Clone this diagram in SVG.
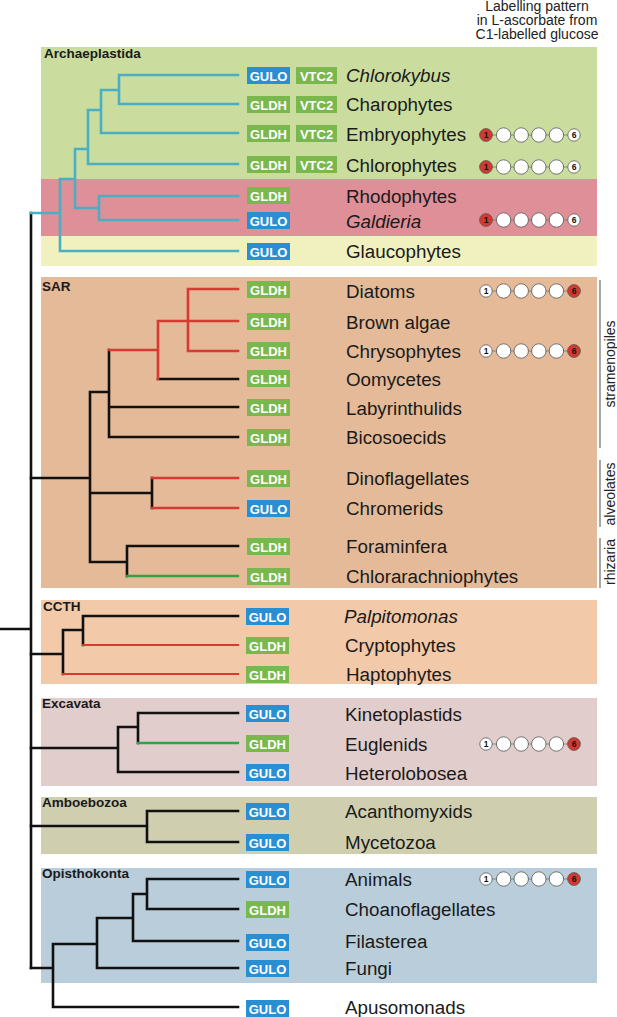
<svg xmlns="http://www.w3.org/2000/svg" width="617" height="1017" viewBox="0 0 617 1017">
<style>
.tx{font-family:"Liberation Sans",Arial,sans-serif;font-size:18.8px;fill:#1a1a1a}
.it{font-style:italic}
.grp{font-family:"Liberation Sans",Arial,sans-serif;font-size:13.5px;font-weight:bold;fill:#1a1a1a}
.hd{font-family:"Liberation Sans",Arial,sans-serif;font-size:14px;fill:#222;text-anchor:middle}
.side{font-family:"Liberation Sans",Arial,sans-serif;font-size:14px;fill:#222;text-anchor:middle}
.bl{fill:#2a8fd2}
.gr{fill:#7ab84e}
.bt{font-family:"Liberation Sans",Arial,sans-serif;font-size:13px;font-weight:bold;fill:#fff;text-anchor:middle}
.k{stroke:#111;stroke-width:2.6;fill:none;stroke-linecap:square}
.t{stroke:#4aafc2;stroke-width:2.6;fill:none;stroke-linecap:square}
.r{stroke:#d63a32;stroke-width:2.6;fill:none;stroke-linecap:square}
.g{stroke:#35a046;stroke-width:2.3;fill:none;stroke-linecap:square}
.sl{stroke:#8a8a8a;stroke-width:1.5}
.cl{stroke:#777;stroke-width:0.8}
.cw{fill:#fff;stroke:#555;stroke-width:0.8}
.cr{fill:#d23a30;stroke:#555;stroke-width:0.8}
.cn{font-family:"Liberation Sans",Arial,sans-serif;font-size:8.5px;font-weight:bold;fill:#111;text-anchor:middle}
</style>
<defs>
<g id="patA">
<line class="cl" x1="486" y1="0" x2="574" y2="0"/>
<circle class="cr" cx="486" cy="0" r="6.4"/>
<circle class="cw" cx="503.6" cy="0" r="7.2"/>
<circle class="cw" cx="521.2" cy="0" r="7.2"/>
<circle class="cw" cx="538.8" cy="0" r="7.2"/>
<circle class="cw" cx="556.4" cy="0" r="7.2"/>
<circle class="cw" cx="574" cy="0" r="6.2"/>
<text class="cn" x="486" y="3">1</text>
<text class="cn" x="574" y="3">6</text>
</g>
<g id="patB">
<line class="cl" x1="486" y1="0" x2="574" y2="0"/>
<circle class="cw" cx="486" cy="0" r="6.2"/>
<circle class="cw" cx="503.6" cy="0" r="7.2"/>
<circle class="cw" cx="521.2" cy="0" r="7.2"/>
<circle class="cw" cx="538.8" cy="0" r="7.2"/>
<circle class="cw" cx="556.4" cy="0" r="7.2"/>
<circle class="cr" cx="574" cy="0" r="6.4"/>
<text class="cn" x="486" y="3">1</text>
<text class="cn" x="574" y="3">6</text>
</g>
</defs>

<g id="panels">
<rect x="41" y="47" width="556" height="132" fill="#cadd9f"/>
<rect x="41" y="179" width="556" height="57" fill="#df8f98"/>
<rect x="41" y="236" width="556" height="30" fill="#f1f1c0"/>
<rect x="41" y="277" width="556" height="311" fill="#e5ba98"/>
<rect x="41" y="600" width="556" height="84" fill="#f2c9a9"/>
<rect x="41" y="698" width="556" height="88" fill="#e1cdcc"/>
<rect x="41" y="797" width="556" height="57" fill="#cfcfb0"/>
<rect x="41" y="868" width="556" height="115" fill="#b9cdda"/>
<text class="grp" x="44" y="58">Archaeplastida</text>
<text class="grp" x="42" y="291">SAR</text>
<text class="grp" x="43" y="611">CCTH</text>
<text class="grp" x="42" y="708">Excavata</text>
<text class="grp" x="42" y="807">Amboebozoa</text>
<text class="grp" x="42" y="878">Opisthokonta</text>
</g>

<g id="header">
<text class="hd" x="537" y="11">Labelling pattern</text>
<text class="hd" x="537" y="25">in L-ascorbate from</text>
<text class="hd" x="537" y="39">C1-labelled glucose</text>
</g>

<g id="connectors">
<path class="k" d="M0,629 H31 M31,213 V968"/>
<path class="t" d="M31,213 H60 M60,179 V251 M60,251 H238 M60,179 H75 M75,149 V208 M75,208 H99 M99,196 V220 M99,196 H238 M99,220 H238 M75,149 H88 M88,110 V164 M88,164 H238 M88,110 H101 M101,90 V133 M101,133 H238 M101,90 H119 M119,75 V104 M119,75 H238 M119,104 H238"/>
<path class="k" d="M31,478 H90 M90,392 V562 M90,392 H109 M109,350 V437 M109,407 H238 M109,437 H238 M158,379 H238 M90,493 H152 M152,478 V508 M90,562 H127 M127,546 V576 M127,546 H238"/>
<path class="r" d="M109,350 H158 M158,321 V379 M158,321 H238 M188,289 V351 M188,289 H238 M188,351 H238 M152,478 H238 M152,508 H238"/>
<path class="g" d="M127,576 H238"/>
<path class="k" d="M31,654 H63 M63,630 V674 M63,630 H83 M83,616 V645 M83,616 H238"/>
<path class="r" style="stroke-width:2.2" d="M83,645 H238 M63,674 H238"/>
<path class="k" d="M31,748 H118 M118,727 V772 M118,772 H238 M118,727 H138 M138,713 V743 M138,713 H238"/>
<path class="g" d="M138,743 H238"/>
<path class="k" d="M31,826 H147 M147,811 V842 M147,811 H238 M147,842 H238"/>
<path class="k" d="M31,968 H53 M53,944 V1007 M53,1007 H238 M53,944 H97 M97,918 V968 M97,968 H238 M97,918 H133 M133,894 V941 M133,941 H238 M133,894 H147 M147,879 V909 M147,879 H238 M147,909 H238"/>
</g>

<g id="n-chlorokybus"><rect class="bl" x="247" y="67" width="43" height="17"/><text class="bt" x="268.5" y="80.5">GULO</text><rect class="gr" x="296" y="67" width="41" height="17"/><text class="bt" x="316.5" y="80.5">VTC2</text><text class="tx it" x="346" y="82">Chlorokybus</text></g>
<g id="n-charophytes"><rect class="gr" x="247" y="96" width="43" height="17"/><text class="bt" x="268.5" y="109.5">GLDH</text><rect class="gr" x="296" y="96" width="41" height="17"/><text class="bt" x="316.5" y="109.5">VTC2</text><text class="tx" x="346" y="111">Charophytes</text></g>
<g id="n-embryophytes"><rect class="gr" x="247" y="125" width="43" height="17"/><text class="bt" x="268.5" y="138.5">GLDH</text><rect class="gr" x="296" y="125" width="41" height="17"/><text class="bt" x="316.5" y="138.5">VTC2</text><text class="tx" x="346" y="141">Embryophytes</text><use href="#patA" y="135"/></g>
<g id="n-chlorophytes"><rect class="gr" x="247" y="156" width="43" height="17"/><text class="bt" x="268.5" y="169.5">GLDH</text><rect class="gr" x="296" y="156" width="41" height="17"/><text class="bt" x="316.5" y="169.5">VTC2</text><text class="tx" x="346" y="172">Chlorophytes</text><use href="#patA" y="167"/></g>
<g id="n-rhodophytes"><rect class="gr" x="247" y="187" width="43" height="17"/><text class="bt" x="268.5" y="200.5">GLDH</text><text class="tx" x="346" y="203">Rhodophytes</text></g>
<g id="n-galdieria"><rect class="bl" x="247" y="212" width="43" height="17"/><text class="bt" x="268.5" y="225.5">GULO</text><text class="tx it" x="346" y="228">Galdieria</text><use href="#patA" y="220"/></g>
<g id="n-glaucophytes"><rect class="bl" x="247" y="243" width="43" height="17"/><text class="bt" x="268.5" y="256.5">GULO</text><text class="tx" x="346" y="258">Glaucophytes</text></g>

<g id="n-diatoms"><rect class="gr" x="247" y="281" width="43" height="17"/><text class="bt" x="268.5" y="294.5">GLDH</text><text class="tx" x="346" y="298">Diatoms</text><use href="#patB" y="291"/></g>
<g id="n-brownalgae"><rect class="gr" x="247" y="313" width="43" height="17"/><text class="bt" x="268.5" y="326.5">GLDH</text><text class="tx" x="346" y="329">Brown algae</text></g>
<g id="n-chrysophytes"><rect class="gr" x="247" y="342" width="43" height="17"/><text class="bt" x="268.5" y="355.5">GLDH</text><text class="tx" x="346" y="358">Chrysophytes</text><use href="#patB" y="351"/></g>
<g id="n-oomycetes"><rect class="gr" x="247" y="370" width="43" height="17"/><text class="bt" x="268.5" y="383.5">GLDH</text><text class="tx" x="346" y="386">Oomycetes</text></g>
<g id="n-labyrinthulids"><rect class="gr" x="247" y="399" width="43" height="17"/><text class="bt" x="268.5" y="412.5">GLDH</text><text class="tx" x="346" y="415">Labyrinthulids</text></g>
<g id="n-bicosoecids"><rect class="gr" x="247" y="429" width="43" height="17"/><text class="bt" x="268.5" y="442.5">GLDH</text><text class="tx" x="346" y="444">Bicosoecids</text></g>
<g id="n-dinoflagellates"><rect class="gr" x="247" y="470" width="43" height="17"/><text class="bt" x="268.5" y="483.5">GLDH</text><text class="tx" x="346" y="485">Dinoflagellates</text></g>
<g id="n-chromerids"><rect class="bl" x="247" y="500" width="43" height="17"/><text class="bt" x="268.5" y="513.5">GULO</text><text class="tx" x="346" y="515">Chromerids</text></g>
<g id="n-foraminifera"><rect class="gr" x="247" y="538" width="43" height="17"/><text class="bt" x="268.5" y="551.5">GLDH</text><text class="tx" x="346" y="553">Foraminfera</text></g>
<g id="n-chlorarachniophytes"><rect class="gr" x="247" y="568" width="43" height="17"/><text class="bt" x="268.5" y="581.5">GLDH</text><text class="tx" x="346" y="583">Chlorarachniophytes</text></g>

<g id="n-palpitomonas"><rect class="bl" x="246" y="608" width="43" height="17"/><text class="bt" x="267.5" y="621.5">GULO</text><text class="tx it" x="344" y="623">Palpitomonas</text></g>
<g id="n-cryptophytes"><rect class="gr" x="246" y="637" width="43" height="17"/><text class="bt" x="267.5" y="650.5">GLDH</text><text class="tx" x="345" y="652">Cryptophytes</text></g>
<g id="n-haptophytes"><rect class="gr" x="246" y="666" width="43" height="17"/><text class="bt" x="267.5" y="679.5">GLDH</text><text class="tx" x="346" y="681">Haptophytes</text></g>

<g id="n-kinetoplastids"><rect class="bl" x="246" y="705" width="43" height="17"/><text class="bt" x="267.5" y="718.5">GULO</text><text class="tx" x="345" y="721">Kinetoplastids</text></g>
<g id="n-euglenids"><rect class="gr" x="246" y="735" width="43" height="17"/><text class="bt" x="267.5" y="748.5">GLDH</text><text class="tx" x="345" y="751">Euglenids</text><use href="#patB" y="744"/></g>
<g id="n-heterolobosea"><rect class="bl" x="246" y="764" width="43" height="17"/><text class="bt" x="267.5" y="777.5">GULO</text><text class="tx" x="345" y="780">Heterolobosea</text></g>

<g id="n-acanthomyxids"><rect class="bl" x="246" y="803" width="43" height="17"/><text class="bt" x="267.5" y="816.5">GULO</text><text class="tx" x="345" y="818">Acanthomyxids</text></g>
<g id="n-mycetozoa"><rect class="bl" x="246" y="834" width="43" height="17"/><text class="bt" x="267.5" y="847.5">GULO</text><text class="tx" x="345" y="849">Mycetozoa</text></g>

<g id="n-animals"><rect class="bl" x="246" y="871" width="43" height="17"/><text class="bt" x="267.5" y="884.5">GULO</text><text class="tx" x="345" y="886">Animals</text><use href="#patB" y="879"/></g>
<g id="n-choanoflagellates"><rect class="gr" x="246" y="901" width="43" height="17"/><text class="bt" x="267.5" y="914.5">GLDH</text><text class="tx" x="345" y="916">Choanoflagellates</text></g>
<g id="n-filasterea"><rect class="bl" x="246" y="934" width="43" height="17"/><text class="bt" x="267.5" y="947.5">GULO</text><text class="tx" x="345" y="948">Filasterea</text></g>
<g id="n-fungi"><rect class="bl" x="246" y="960" width="43" height="17"/><text class="bt" x="267.5" y="973.5">GULO</text><text class="tx" x="345" y="975">Fungi</text></g>
<g id="n-apusomonads"><rect class="bl" x="246" y="1000" width="43" height="17"/><text class="bt" x="267.5" y="1013.5">GULO</text><text class="tx" x="345" y="1014">Apusomonads</text></g>

<g id="side-labels">
<line class="sl" x1="600" y1="280" x2="600" y2="448"/>
<line class="sl" x1="600" y1="460" x2="600" y2="527"/>
<line class="sl" x1="600" y1="538" x2="600" y2="588"/>
<text class="side" transform="translate(615,364) rotate(-90)">stramenopiles</text>
<text class="side" transform="translate(615,494) rotate(-90)">alveolates</text>
<text class="side" transform="translate(615,562) rotate(-90)">rhizaria</text>
</g>
</svg>
